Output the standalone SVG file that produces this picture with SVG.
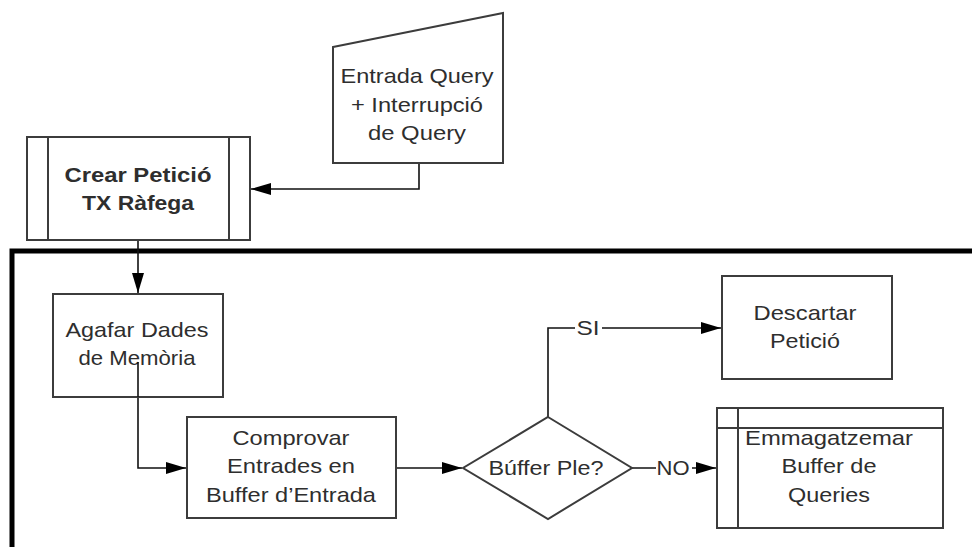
<svg xmlns="http://www.w3.org/2000/svg" width="972" height="547" viewBox="0 0 972 547">
  <style>
    .shape { fill: #ffffff; stroke: #3c3c3c; stroke-width: 2; }
    .inner { fill: none; stroke: #3c3c3c; stroke-width: 2; }
    .conn { fill: none; stroke: #111111; stroke-width: 1.6; }
    .lbl { font-family: "Liberation Sans", Arial, sans-serif; font-size: 21px; fill: #2e2e2e; text-anchor: middle; }
    .bold { font-weight: bold; }
    .frame { fill: none; stroke: #000000; stroke-width: 5; }
  </style>
  <defs>
    <marker id="arrow" viewBox="0 0 20 12" refX="20" refY="6" markerWidth="20" markerHeight="12" markerUnits="userSpaceOnUse" orient="auto">
      <path d="M0,0 L20,6 L0,12 Z" fill="#000000"/>
    </marker>
  </defs>

  <rect width="972" height="547" fill="#ffffff"/>

  <!-- swimlane frame -->
  <path class="frame" d="M972,251 H12 V547"/>

  <g id="connectors">
    <path class="conn" d="M419,163 V189 H251" marker-end="url(#arrow)"/>
    <path class="conn" d="M138,240 V293" marker-end="url(#arrow)"/>
    <path class="conn" d="M138,362 V468 H186" marker-end="url(#arrow)"/>
    <path class="conn" d="M396,468 H462" marker-end="url(#arrow)"/>
    <path class="conn" d="M548,417 V328 H721" marker-end="url(#arrow)"/>
    <path class="conn" d="M632,468 H716" marker-end="url(#arrow)"/>
    <g id="label-si">
      <rect x="575" y="318" width="27" height="20" fill="#ffffff"/>
      <text class="lbl" x="588" y="335" textLength="23" lengthAdjust="spacingAndGlyphs">SI</text>
    </g>
    <g id="label-no">
      <rect x="656" y="458" width="36" height="20" fill="#ffffff"/>
      <text class="lbl" x="673" y="475" textLength="33" lengthAdjust="spacingAndGlyphs">NO</text>
    </g>
  </g>

  <g id="entrada-query">
    <polygon class="shape" points="333,47 503,13 503,163 333,163"/>
    <text class="lbl" x="417" y="83" textLength="153" lengthAdjust="spacingAndGlyphs">Entrada Query</text>
    <text class="lbl" x="417" y="112" textLength="132" lengthAdjust="spacingAndGlyphs">+ Interrupció</text>
    <text class="lbl" x="417" y="140" textLength="98" lengthAdjust="spacingAndGlyphs">de Query</text>
  </g>

  <g id="crear-peticio">
    <rect class="shape" x="27" y="137" width="223" height="103"/>
    <path class="inner" d="M48,137 V240 M229,137 V240"/>
    <text class="lbl bold" x="138" y="182" textLength="147" lengthAdjust="spacingAndGlyphs">Crear Petició</text>
    <text class="lbl bold" x="138" y="210" textLength="112" lengthAdjust="spacingAndGlyphs">TX Ràfega</text>
  </g>

  <g id="agafar-dades">
    <rect class="shape" x="53" y="294" width="170" height="103"/>
    <text class="lbl" x="137" y="337" textLength="143" lengthAdjust="spacingAndGlyphs">Agafar Dades</text>
    <text class="lbl" x="137" y="365" textLength="117" lengthAdjust="spacingAndGlyphs">de Memòria</text>
  </g>

  <!-- the connector leaving this box starts inside it, over the label -->
  <path class="conn" d="M138,362 V397"/>

  <g id="comprovar-entrades">
    <rect class="shape" x="187" y="417" width="209" height="101"/>
    <text class="lbl" x="291" y="445" textLength="117" lengthAdjust="spacingAndGlyphs">Comprovar</text>
    <text class="lbl" x="291" y="473" textLength="128" lengthAdjust="spacingAndGlyphs">Entrades en</text>
    <text class="lbl" x="291" y="502" textLength="170" lengthAdjust="spacingAndGlyphs">Buffer d’Entrada</text>
  </g>

  <g id="buffer-ple">
    <polygon class="shape" points="548,417 632,468 548,519 463,468"/>
    <text class="lbl" x="546" y="475" textLength="115" lengthAdjust="spacingAndGlyphs">Búffer Ple?</text>
  </g>

  <g id="descartar-peticio">
    <rect class="shape" x="722" y="276" width="170" height="103"/>
    <text class="lbl" x="805" y="320" textLength="103" lengthAdjust="spacingAndGlyphs">Descartar</text>
    <text class="lbl" x="805" y="348" textLength="70" lengthAdjust="spacingAndGlyphs">Petició</text>
  </g>

  <g id="emmagatzemar-buffer">
    <rect class="shape" x="717" y="408" width="226" height="120"/>
    <path class="inner" d="M738,408 V528 M717,428 H943"/>
    <text class="lbl" x="829" y="445" textLength="168" lengthAdjust="spacingAndGlyphs">Emmagatzemar</text>
    <text class="lbl" x="829" y="473" textLength="95" lengthAdjust="spacingAndGlyphs">Buffer de</text>
    <text class="lbl" x="829" y="502" textLength="82" lengthAdjust="spacingAndGlyphs">Queries</text>
  </g>
</svg>
